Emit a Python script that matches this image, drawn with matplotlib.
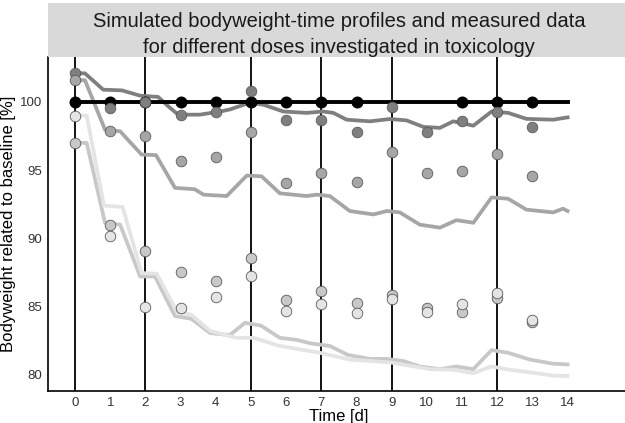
import numpy as np
import matplotlib.pyplot as plt

plt.rcParams['font.family'] = ['Liberation Sans', 'DejaVu Sans']

# dosing days (vertical lines)
dose_days = [0, 2, 5, 7, 9, 12]

# control group
ctrl_t = [0, 14]
ctrl_sim = [100, 100]
ctrl_days = [0, 1, 2, 3, 4, 5, 6, 7, 8, 11, 12, 13]
ctrl_obs = [100, 100, 100, 100, 100, 100, 100, 100, 100, 100, 100, 100]

# simulated profiles, dose 1..4
t1 = [0, 0.28, 0.8, 1.33, 1.85, 2.36, 2.64, 2.93, 3.55, 4.12, 4.4, 4.97, 5.35, 5.92, 6.58,
      7.05, 7.34, 7.72, 8.38, 8.95, 9.42, 9.9, 10.37, 10.75, 11.32, 11.84, 12.31, 12.83, 13.59, 14.0]
sim1 = [102.1, 102.1, 100.9, 100.85, 100.46, 100.37, 99.7, 99.07, 99.07, 99.3, 99.45, 99.95, 99.8, 99.3, 99.2,
        99.3, 99.2, 98.7, 98.58, 98.75, 98.65, 98.17, 98.1, 98.58, 98.26, 99.3, 99.2, 98.76, 98.7, 98.87]

t2 = [0, 0.28, 0.85, 1.28, 1.89, 2.3, 2.84, 3.4, 3.65, 4.31, 4.88, 5.3, 5.82, 6.58, 6.87, 7.24,
      7.81, 8.48, 8.86, 9.23, 9.8, 10.37, 10.84, 11.32, 11.84, 12.31, 12.83, 13.59, 13.87, 14.0]
sim2 = [101.6, 101.6, 97.97, 97.85, 96.14, 96.1, 93.7, 93.6, 93.2, 93.1, 94.6, 94.55, 93.3, 93.1, 93.2, 93.1,
        92.0, 91.75, 92.0, 91.9, 91.0, 90.78, 91.33, 91.14, 93.0, 92.9, 92.1, 91.9, 92.17, 92.0]

t3 = [0, 0.33, 0.85, 1.28, 1.85, 2.27, 2.84, 3.3, 3.84, 4.4, 4.83, 5.28, 5.82, 6.3, 6.68, 7.24,
      7.75, 8.38, 8.86, 9.33, 9.8, 10.37, 10.84, 11.32, 11.84, 12.31, 12.93, 13.59, 14.0]
sim3 = [97.0, 97.0, 91.14, 91.0, 87.2, 87.2, 84.3, 84.1, 83.05, 82.9, 83.8, 83.6, 82.7, 82.55, 82.3, 82.1,
        81.45, 81.15, 81.15, 81.0, 80.6, 80.4, 80.6, 80.4, 81.8, 81.6, 81.1, 80.8, 80.75]

t4 = [0, 0.33, 0.82, 1.35, 1.89, 2.32, 2.9, 3.3, 3.84, 4.59, 5.07, 5.82, 6.96, 7.81, 8.95, 10.09,
      10.75, 11.32, 11.84, 12.31, 12.93, 13.59, 14.0]
sim4 = [99.0, 99.0, 92.4, 92.3, 87.45, 87.4, 84.6, 84.4, 83.2, 82.7, 82.7, 82.1, 81.6, 81.1, 80.9, 80.4,
        80.36, 80.1, 80.6, 80.37, 80.17, 79.93, 79.9]

# measured data, dose 1..4
days = [0, 1, 2, 3, 4, 5, 6, 7, 8, 9, 10, 11, 12, 13]
obs1 = [102.1, 99.56, 100.0, 99.07, 99.27, 100.78, 98.7, 98.7, 97.8, 99.6, 97.83, 98.6, 99.3, 98.14]
obs2 = [101.6, 97.85, 97.5, 95.65, 95.97, 97.78, 94.02, 94.8, 94.14, 96.34, 94.8, 94.9, 96.2, 94.6]
obs3 = [97.0, 90.94, 89.1, 87.5, 86.85, 88.55, 85.5, 86.1, 85.27, 85.85, 84.86, 84.6, 85.6, 83.87]
obs4 = [99.0, 90.2, 84.98, 84.86, 85.7, 87.26, 84.65, 85.2, 84.54, 85.54, 84.6, 85.15, 86.0, 83.97]

colors = ['#7f7f7f', '#a6a6a6', '#c8c8c8', '#e4e4e4']

fig = plt.figure(figsize=(6.25, 4.23), dpi=100)
ax = fig.add_axes([0.0768, 0.0757, 0.931, 0.7896])

for d in dose_days:
    ax.axvline(d, color='black', lw=1.3, zorder=1)

sims = [(t1, sim1), (t2, sim2), (t3, sim3), (t4, sim4)]
for (t, s), c in zip(sims, colors):
    ax.plot(t, s, color=c, lw=2.7, solid_joinstyle='round', zorder=2)
ax.plot(ctrl_t, ctrl_sim, color='black', lw=2.8, zorder=3)

ax.scatter(ctrl_days, ctrl_obs, s=58, color='black', zorder=4)
for obs, c in zip([obs1, obs2, obs3, obs4], colors):
    ax.scatter(days, obs, s=58, color=c, edgecolors='#5a5a5a', linewidths=0.6, zorder=5)

ax.set_xlim(-0.77, 15.77)
ax.set_ylim(78.8, 103.3)
ax.set_xticks(range(0, 15))
ax.set_yticks([80, 85, 90, 95, 100])
ax.tick_params(length=0, pad=4, labelsize=9.5, colors='#333333')
for side in ['top', 'right']:
    ax.spines[side].set_visible(False)
for side in ['left', 'bottom']:
    ax.spines[side].set_linewidth(1.2)
ax.set_xlabel('Time [d]', fontsize=12, labelpad=0)
ax.set_ylabel('Bodyweight related to baseline [%]', fontsize=12, labelpad=3)

strip = fig.add_axes([0.0768, 0.8652, 0.931, 0.1277])
strip.set_facecolor('#d9d9d9')
strip.set_xticks([])
strip.set_yticks([])
for sp in strip.spines.values():
    sp.set_visible(False)
strip.text(0.5, 0.556, 'Simulated bodyweight-time profiles and measured data',
           ha='center', va='baseline', fontsize=14.5, color='#1a1a1a',
           transform=strip.transAxes)
strip.text(0.5, 0.074, 'for different doses investigated in toxicology',
           ha='center', va='baseline', fontsize=14.5, color='#1a1a1a',
           transform=strip.transAxes)

fig.savefig('out.png', dpi=100)
